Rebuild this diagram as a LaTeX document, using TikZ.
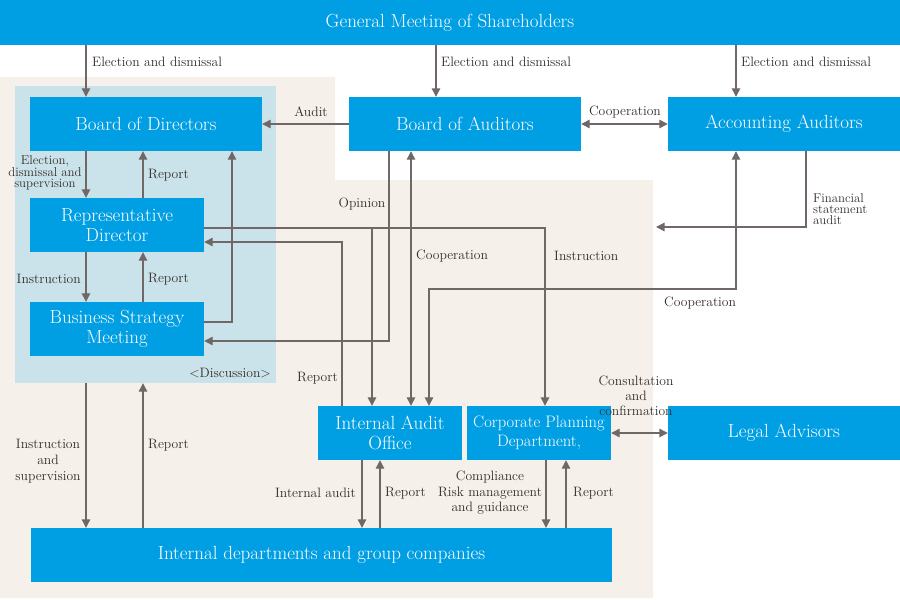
\documentclass[tikz,border=0pt]{standalone}
\usetikzlibrary{arrows.meta}
\definecolor{boxblue}{RGB}{0,159,227}
\definecolor{beige}{RGB}{246,240,234}
\definecolor{panelblue}{RGB}{202,226,234}
\definecolor{linegrey}{RGB}{112,104,102}
\definecolor{txt}{RGB}{51,46,44}
\tikzset{
  box/.style={fill=boxblue, text=white, font=\fontsize{19}{19.5}\selectfont, align=center, inner sep=0pt, minimum height=54pt},
  lbl/.style={text=txt, font=\fontsize{13.6}{15.5}\selectfont, inner sep=0pt, align=center},
  tightlbl/.style={text=txt, font=\fontsize{12.8}{11.2}\selectfont, inner sep=0pt, align=center},
  conn/.style={draw=linegrey, line width=1.2pt},
  arr/.style={conn, -{Triangle[width=8.5pt,length=8.5pt]}},
  arrtwo/.style={conn, {Triangle[width=8.5pt,length=8.5pt]}-{Triangle[width=8.5pt,length=8.5pt]}}
}
\begin{document}
\begin{tikzpicture}[x=1pt,y=-1pt]
\useasboundingbox (0,0) rectangle (900,600);
% backgrounds
\fill[beige] (0,77) -- (335,77) -- (335,180) -- (653,180) -- (653,598) -- (0,598) -- cycle;
\node[fill=panelblue, minimum width=261pt, minimum height=297pt, inner sep=0pt] (panel) at (145.5,234.5) {};
% boxes
\node[box, minimum width=900pt, minimum height=45pt] (gm) at (450,22.5) {General Meeting of Shareholders};
\node[box, minimum width=232pt] (bod) at (146,124) {Board of Directors};
\node[box, minimum width=174pt] (rd) at (117,225) {Representative\\Director};
\node[box, minimum width=174pt] (bsm) at (117,329) {Business Strategy\\Meeting};
\node[box, minimum width=232pt] (boa) at (465,124) {Board of Auditors};
\node[box, minimum width=232pt] (aa) at (784,124) {Accounting Auditors};
\node[box, minimum width=144pt] (iao) at (390,433) {Internal Audit\\Office};
\node[box, minimum width=144pt, font=\fontsize{16.6}{19.5}\selectfont] (cpd) at (539,433) {Corporate Planning\\Department,};
\node[box, minimum width=232pt] (legal) at (784,433) {Legal Advisors};
\node[box, minimum width=581pt] (idg) at (321.5,555) {Internal departments and group companies};
% helper coordinates
\coordinate (c86) at (86,0);
\coordinate (c143) at (143,0);
\coordinate (c342) at (342,0);
\coordinate (c362) at (362,0);
\coordinate (c372) at (372,0);
\coordinate (c380) at (380,0);
\coordinate (c389) at (389,0);
\coordinate (c411) at (411,0);
\coordinate (c436) at (436,0);
\coordinate (c546) at (546,0);
\coordinate (c566) at (566,0);
\coordinate (c736) at (736,0);
\coordinate (c806) at (806,0);
\coordinate (pbsm) at (232,322);
\coordinate (pins) at (545,228);
\coordinate (prep) at (342,242);
\coordinate (popi) at (389,341);
\coordinate (pcoop) at (429,289);
\coordinate (pfsa) at (656,227);
% connectors
\draw[arr] (c86 |- gm.south) -- (c86 |- bod.north);
\draw[arr] (c436 |- gm.south) -- (c436 |- boa.north);
\draw[arr] (c736 |- gm.south) -- (c736 |- aa.north);
\draw[arr] (boa.west) -- (bod.east);
\draw[arrtwo] (boa.east) -- (aa.west);
\draw[arr] (c86 |- bod.south) -- (c86 |- rd.north);
\draw[arr] (c143 |- rd.north) -- (c143 |- bod.south);
\draw[arr] (bsm.east |- pbsm) -| (pbsm |- bod.south);
\draw[arr] (c86 |- rd.south) -- (c86 |- bsm.north);
\draw[arr] (c143 |- bsm.north) -- (c143 |- rd.south);
\draw[arr] (rd.east |- pins) -| (pins |- cpd.north);
\draw[arr] (c372 |- pins) -- (c372 |- iao.north);
\draw[arr] (c342 |- iao.north) |- (rd.east |- prep);
\draw[arr] (c389 |- boa.south) |- (bsm.east |- popi);
\draw[arrtwo] (c411 |- boa.south) -- (c411 |- iao.north);
\draw[arrtwo] (c736 |- aa.south) |- (pcoop) -- (pcoop |- iao.north);
\draw[arr] (c806 |- aa.south) |- (pfsa);
\draw[arrtwo] (cpd.east) -- (legal.west);
\draw[arr] (c86 |- panel.south) -- (c86 |- idg.north);
\draw[arr] (c143 |- idg.north) -- (c143 |- panel.south);
\draw[arr] (c362 |- iao.south) -- (c362 |- idg.north);
\draw[arr] (c380 |- idg.north) -- (c380 |- iao.south);
\draw[arr] (c546 |- cpd.south) -- (c546 |- idg.north);
\draw[arr] (c566 |- idg.north) -- (c566 |- cpd.south);
% labels
\node[lbl, anchor=west] (l1) at (92,62) {Election and dismissal};
\node[lbl, anchor=west] (l2) at (441,62) {Election and dismissal};
\node[lbl, anchor=west] (l3) at (741,62) {Election and dismissal};
\node[lbl] (l4) at (311,112) {Audit};
\node[lbl] (l5) at (625,112) {Cooperation};
\node[tightlbl] (l6) at (45,173) {Election,\\dismissal and\\supervision};
\node[lbl, anchor=west] (l7) at (148,175) {Report};
\node[lbl, anchor=east] (l8) at (81,279) {Instruction};
\node[lbl, anchor=west] (l9) at (148,279) {Report};
\node[lbl, anchor=east] (l10) at (271,373) {\textless Discussion\textgreater};
\node[lbl] (l11) at (362,204) {Opinion};
\node[lbl, anchor=west] (l12) at (416,256) {Cooperation};
\node[lbl, anchor=west] (l13) at (554,256) {Instruction};
\node[lbl, anchor=west] (l14) at (664,303) {Cooperation};
\node[lbl, anchor=west] (l15) at (297,378) {Report};
\node[tightlbl, align=left, anchor=west] (l16) at (813,209) {Financial\\statement\\audit};
\node[lbl, font=\fontsize{13.6}{15}\selectfont] (l17) at (636,396) {Consultation\\and\\confirmation};
\node[lbl, font=\fontsize{13.6}{16}\selectfont] (l18) at (48,461) {Instruction\\and\\supervision};
\node[lbl, anchor=west] (l19) at (148,445) {Report};
\node[lbl, anchor=east] (l20) at (356,493) {Internal audit};
\node[lbl, anchor=west] (l21) at (385,493) {Report};
\node[lbl] (l22) at (490,493) {Compliance\\Risk management\\and guidance};
\node[lbl, anchor=west] (l23) at (573,493) {Report};
\end{tikzpicture}
\end{document}
